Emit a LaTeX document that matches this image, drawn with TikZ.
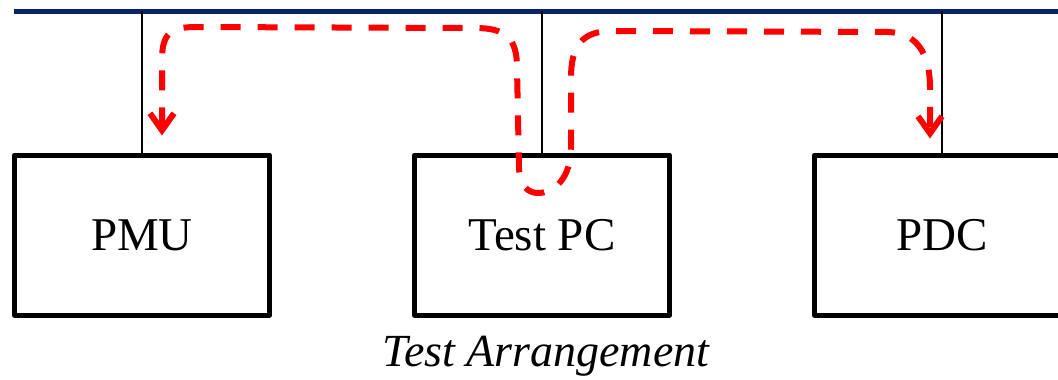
\documentclass[tikz,border=0pt]{standalone}
\usepackage{fontspec}
\setmainfont{Liberation Serif}
\usetikzlibrary{arrows.meta,calc}
\definecolor{busblue}{RGB}{8,36,100}
\tikzset{
	unit/.style={draw, line width=5pt, minimum width=255pt, minimum height=160pt, font=\fontsize{47}{56}\selectfont},
	drop/.style={line width=2pt},
	flow/.style={red, line width=6pt, dash pattern=on 20pt off 17pt, line join=round},
	barb/.tip={Straight Barb[length=17pt, width=24pt, line width=6pt]}
}
\begin{document}
\begin{tikzpicture}[x=1pt, y=-1pt, line join=round]
	\clip (0,0) rectangle (1058,380);
	% bus
	\coordinate (busL) at (14,11);
	\coordinate (busR) at (1070,11);
	\draw[busblue, line width=5pt] (busL) -- (busR);
	% devices
	\node[unit] (pmu) at (142,235) {PMU};
	\node[unit] (testpc) at (542,235) {Test PC};
	\node[unit] (pdc) at (942,235) {PDC};
	\foreach \n in {pmu,testpc,pdc}
		\draw[drop] (\n.north) -- (\n.north |- busL);
	% message path PMU <- Test PC -> PDC
	\coordinate (toPMU) at ($(pmu.north)+(20,-17)$);
	\coordinate (toPDC) at ($(pdc.north)+(-12,-14)$);
	\draw[flow, barb-barb] (toPMU) -- (162,60)
		.. controls (162,34) and (170,27) .. (196,27) -- (475,28)
		.. controls (506,28) and (517,38) .. (517,68) -- (519,168)
		.. controls (520,186) and (528,193) .. (538,193)
		.. controls (554,193) and (571,178) .. (571,148) -- (571,78)
		.. controls (571,46) and (582,31) .. (612,31) -- (888,32)
		.. controls (916,33) and (930,52) .. (930,88) -- (toPDC);
	\node[font=\fontsize{46}{54}\selectfont\itshape, anchor=base] (title) at (546,366) {Test Arrangement};
\end{tikzpicture}
\end{document}
